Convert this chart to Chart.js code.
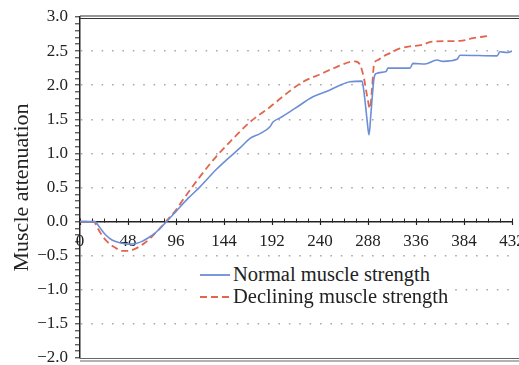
<!DOCTYPE html>
<html>
<head>
<meta charset="utf-8">
<script src="https://cdn.jsdelivr.net/npm/chart.js@4/dist/chart.umd.min.js"></script>
<style>
  html, body { margin: 0; padding: 0; background: #fff; }
  #wrap { position: relative; width: 519px; height: 365px; }
  #legend { position: absolute; left: 190px; top: 262px; width: 256px; height: 46px; background: #fff;
            font-family: "Liberation Serif", "Times New Roman", serif; font-size: 20.5px; color: #222; }
  .item { position: absolute; left: 10px; height: 20px; line-height: 20px; white-space: nowrap; }
  .item svg { position: absolute; left: 0; top: 0; }
  .item span { position: absolute; left: 33px; top: 0; }
</style>
</head>
<body>
<div id="wrap">
  <canvas id="c" width="519" height="365"></canvas>
  <div id="legend"></div>
</div>
<script>
// ---- data ----
const seriesLabels = ['Normal muscle strength', 'Declining muscle strength'];

const normalX = [0, 15, 18, 22, 26, 32, 40, 48, 56, 62, 68, 75, 80, 86, 96, 108, 120, 136, 150, 160, 170, 180, 190, 193, 200, 215, 233, 250, 260, 270, 282, 284, 287, 289, 291, 294, 296, 306, 308, 330, 333, 345, 357, 363, 377, 380, 417, 420, 427, 432];
const normalY = [0, 0, -0.05, -0.13, -0.2, -0.27, -0.31, -0.33, -0.32, -0.29, -0.24, -0.17, -0.1, -0.01, 0.15, 0.34, 0.51, 0.76, 0.95, 1.08, 1.22, 1.29, 1.39, 1.46, 1.52, 1.66, 1.83, 1.93, 2.0, 2.05, 2.06, 1.9, 1.5, 1.27, 1.6, 2.1, 2.17, 2.2, 2.25, 2.25, 2.32, 2.31, 2.37, 2.35, 2.38, 2.44, 2.43, 2.49, 2.48, 2.5];

const decliningX = [0, 14, 17, 21, 25, 30, 35, 42, 48, 55, 60, 65, 72, 78, 83, 87, 96, 103, 120, 136, 150, 170, 190, 205, 223, 240, 257, 275, 280, 284, 287, 290, 292, 294, 298, 303, 310, 320, 330, 342, 352, 380, 393, 407];
const decliningY = [0, 0, -0.08, -0.18, -0.26, -0.33, -0.38, -0.43, -0.43, -0.4, -0.36, -0.31, -0.22, -0.13, -0.05, 0.02, 0.17, 0.32, 0.66, 0.95, 1.17, 1.46, 1.68, 1.86, 2.05, 2.16, 2.27, 2.35, 2.3, 2.1, 1.85, 1.66, 1.95, 2.3, 2.37, 2.42, 2.47, 2.54, 2.57, 2.59, 2.64, 2.65, 2.69, 2.72];

const xMin = 0, xMax = 432, xMajorStep = 48, xMinorStep = 12;
const yMin = -2.0, yMax = 3.0, yMajorStep = 0.5, yMinorStep = 0.1;
const yTitle = 'Muscle attenuation';

// ---- styling ----
const BLUE = '#6c8ed6';
const RED = '#e2654d';
const FONT = '"Liberation Serif", "Times New Roman", serif';
const TXT = '#222';

const toPts = (xs, ys) => xs.map((x, i) => ({ x: x, y: ys[i] }));
const isMult = (v, s) => Math.abs(v / s - Math.round(v / s)) < 1e-6;
const fmtNum = v => (Math.abs(v) < 1e-9 ? 0 : v).toFixed(1).replace('-', '\u2212');

const zeroFit = s => { s.height = 0; s.paddingLeft = 0; s.paddingRight = 0; s.paddingTop = 0; s.paddingBottom = 0; };

const framePlugin = {
  id: 'frame',
  afterDraw(chart) {
    const { ctx, chartArea: a, width } = chart;
    ctx.save();
    ctx.strokeStyle = '#333';
    ctx.lineWidth = 1.2;
    ctx.beginPath();
    ctx.moveTo(a.left, a.top - 1); ctx.lineTo(width, a.top - 1);
    ctx.moveTo(a.left, a.top + 1.5); ctx.lineTo(width, a.top + 1.5);
    ctx.stroke();
    ctx.strokeStyle = '#666';
    ctx.beginPath();
    ctx.moveTo(a.left, a.bottom + 0.5); ctx.lineTo(width, a.bottom + 0.5);
    ctx.moveTo(a.left, a.bottom + 3); ctx.lineTo(width, a.bottom + 3);
    ctx.stroke();
    ctx.restore();
  }
};

new Chart(document.getElementById('c'), {
  type: 'line',
  data: {
    datasets: [
      { label: seriesLabels[0], data: toPts(normalX, normalY), borderColor: BLUE, borderWidth: 1.6,
        pointRadius: 0, fill: false, cubicInterpolationMode: 'monotone', xAxisID: 'x', yAxisID: 'y' },
      { label: seriesLabels[1], data: toPts(decliningX, decliningY), borderColor: RED, borderWidth: 1.8,
        borderDash: [7, 4], pointRadius: 0, fill: false, cubicInterpolationMode: 'monotone', xAxisID: 'x', yAxisID: 'y' }
    ]
  },
  options: {
    responsive: false,
    animation: false,
    events: [],
    layout: { padding: { left: 0, top: 17, right: 7, bottom: 7 } },
    plugins: { legend: { display: false }, tooltip: { enabled: false } },
    scales: {
      x: {
        type: 'linear', min: xMin, max: xMax,
        position: { y: 0 },
        afterFit: zeroFit,
        grid: { display: true, drawOnChartArea: false, drawTicks: true, tickLength: -4, tickColor: '#222', tickWidth: 1 },
        border: { display: true, color: '#222', width: 1.5 },
        ticks: { stepSize: xMinorStep, autoSkip: false, maxRotation: 0, display: false }
      },
      x2: {
        type: 'linear', min: xMin, max: xMax,
        position: { y: 0 },
        afterFit: zeroFit,
        grid: { display: true, drawOnChartArea: false, drawTicks: true, tickLength: 3, tickColor: '#222', tickWidth: 1.2 },
        border: { display: false },
        ticks: { stepSize: xMajorStep, autoSkip: false, maxRotation: 0, padding: 7,
                 color: TXT, font: { family: FONT, size: 17 },
                 callback: v => String(Math.round(v)) }
      },
      y: {
        type: 'linear', min: yMin, max: yMax, position: 'left',
        afterFit: s => { s.width = 80; s.paddingTop = 0; s.paddingBottom = 0; },
        grid: {
          drawOnChartArea: true, drawTicks: true, tickLength: 5, tickWidth: 1, tickColor: '#222',
          lineWidth: 1.6,
          color: ctx => {
            const v = ctx.tick ? ctx.tick.value : 0;
            if (!isMult(v, yMajorStep)) return 'rgba(0,0,0,0)';
            if (Math.abs(v) < 1e-6 || Math.abs(v - yMax) < 1e-6 || Math.abs(v - yMin) < 1e-6) return 'rgba(0,0,0,0)';
            return '#aaaaaa';
          }
        },
        border: { display: true, color: '#222', width: 1.5, dash: [1.6, 8.8], dashOffset: -0.3 },
        ticks: { stepSize: yMinorStep, autoSkip: false, padding: 7, color: TXT,
                 font: { family: FONT, size: 17 },
                 callback: v => isMult(v, yMajorStep) ? fmtNum(v) : '' },
        title: { display: true, text: yTitle, color: TXT, font: { family: FONT, size: 22 },
                 padding: { top: 9, bottom: 0 } }
      }
    }
  },
  plugins: [framePlugin]
});

// ---- legend (HTML text) ----
const leg = document.getElementById('legend');
const legendStyles = [
  { color: BLUE, dash: '', top: 2 },
  { color: RED, dash: '7 4', top: 24 }
];
seriesLabels.forEach((lab, i) => {
  const st = legendStyles[i];
  const d = document.createElement('div');
  d.className = 'item';
  d.style.top = st.top + 'px';
  d.innerHTML = '<svg width="32" height="20"><line x1="0" y1="11" x2="30" y2="11" stroke="' + st.color +
    '" stroke-width="1.8"' + (st.dash ? ' stroke-dasharray="' + st.dash + '"' : '') + '/></svg>';
  const sp = document.createElement('span');
  sp.textContent = lab;
  d.appendChild(sp);
  leg.appendChild(d);
});
</script>
</body>
</html>
